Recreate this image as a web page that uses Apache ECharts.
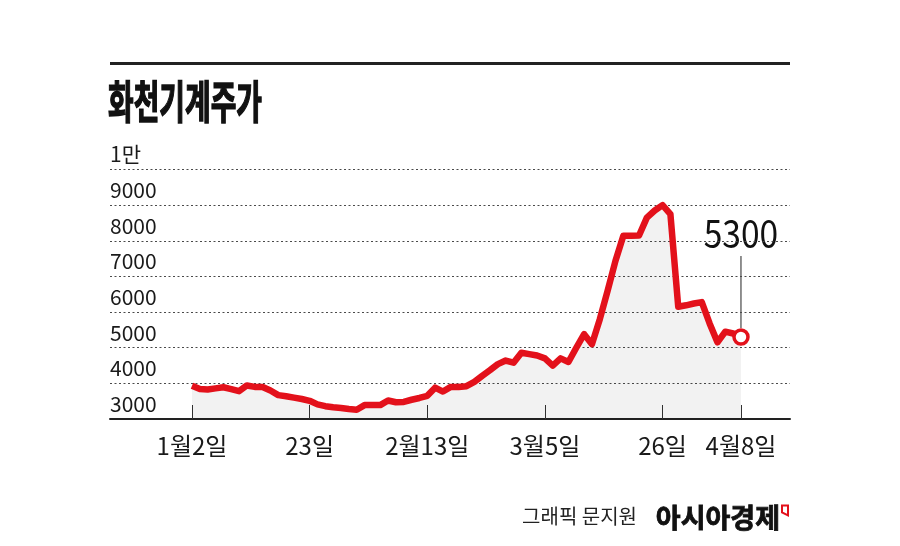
<!DOCTYPE html>
<html>
<head>
<meta charset="utf-8">
<script src="https://cdn.jsdelivr.net/npm/echarts@6/dist/echarts.min.js"></script>
<style>
html, body { margin: 0; background: #fff; }
#chart { width: 900px; height: 546px; }
</style>
</head>
<body>
<div id="chart"></div>
<script>
// 화천기계 주가, trading-day index -> close
const tickIndex = [0, 15, 30, 45, 60, 70]
const tickLabels = ['1월2일', '23일', '2월13일', '3월5일', '26일', '4월8일']
const yLabels = ['3000', '4000', '5000', '6000', '7000', '8000', '9000', '1만']
const prices = [
    3930, 3840, 3830, 3860, 3890, 3840, 3780, 3940, 3900, 3900,
    3800, 3670, 3640, 3600, 3560, 3510, 3410, 3360, 3330, 3310,
    3280, 3260, 3390, 3390, 3390, 3520, 3470, 3480, 3540, 3590,
    3650, 3880, 3770, 3900, 3900, 3920, 4040, 4210, 4370, 4540,
    4640, 4580, 4860, 4820, 4780, 4700, 4500, 4700, 4600, 5000,
    5380, 5100, 5800, 6600, 7440, 8140, 8140, 8150, 8650, 8850,
    9000, 8750, 6150, 6190, 6240, 6280, 5680, 5150, 5450, 5400,
    5300
]

const RED = '#e3111b'
const FONT = "'Noto Sans CJK KR', sans-serif"
const last = prices.length - 1

let chart = echarts.init(document.getElementById('chart'))

chart.setOption({
    animation: false,
    grid: { left: 110, right: 110, top: 169.5, bottom: 127 },
    xAxis: {
        type: 'value',
        min: -10.455,
        max: 76.25,
        splitLine: { show: false },
        axisLine: { lineStyle: { color: '#222', width: 2 } },
        axisTick: {
            customValues: tickIndex,
            inside: true,
            length: 14,
            lineStyle: { color: '#333', width: 1 },
        },
        axisLabel: {
            customValues: tickIndex,
            formatter: (v) => tickLabels[tickIndex.indexOf(v)],
            margin: 15,
            fontSize: 24,
            color: '#1a1a1a',
            fontFamily: FONT,
        },
    },
    yAxis: {
        type: 'value',
        min: 3000,
        max: 10000,
        interval: 1000,
        axisLine: { show: false },
        axisTick: { show: false },
        splitLine: { lineStyle: { type: [2, 2.5], color: '#4a4a4a', width: 1 } },
        axisLabel: {
            inside: true,
            margin: 0,
            verticalAlign: 'bottom',
            lineHeight: 20,
            padding: [0, 0, 5, 0],
            fontSize: 21,
            color: '#1a1a1a',
            fontFamily: FONT,
            formatter: (v) => yLabels[(v - 3000) / 1000],
        },
    },
    series: [
        {
            type: 'line',
            symbol: 'none',
            data: prices.map((v, i) => i === last ? {
                value: [i, v],
                symbol: 'circle',
                symbolSize: 14,
                itemStyle: { color: '#fff', borderColor: RED, borderWidth: 3.5 },
            } : [i, v]),
            lineStyle: { color: RED, width: 6.5, join: 'round' },
            areaStyle: { color: 'rgba(0,0,0,0.075)', origin: 'start' },
            z: 3,
        },
    ],
    graphic: [
        {
            id: 'rule', type: 'rect',
            shape: { x: 110, y: 62, width: 680, height: 3 },
            style: { fill: '#222' },
        },
        {
            id: 'title', type: 'text', x: 108, y: 102, scaleX: 0.62,
            style: {
                text: '화천기계주가', font: 'bold 45px ' + FONT,
                fill: '#111', stroke: '#111', lineWidth: 1.5,
                textVerticalAlign: 'middle',
            },
        },
        {
            id: 'credit', type: 'text', x: 637, y: 516,
            style: {
                text: '그래픽 문지원', font: '20px ' + FONT,
                fill: '#222', textAlign: 'right', textVerticalAlign: 'middle',
            },
        },
        {
            id: 'paper', type: 'text', x: 780, y: 518,
            style: {
                text: '아시아경제', font: 'bold 27px ' + FONT,
                fill: '#111', stroke: '#111', lineWidth: 0.8,
                textAlign: 'right', textVerticalAlign: 'middle',
            },
        },
        {
            id: 'flag', type: 'polygon',
            shape: { points: [[782, 505.5], [788, 505.5], [788, 515.5], [782, 512.5]] },
            style: { fill: 'none', stroke: RED, lineWidth: 2 },
        },
    ],
})

// callout for the last close
const [px, py] = chart.convertToPixel({ seriesIndex: 0 }, [last, prices[last]])
chart.setOption({
    graphic: [
        {
            id: 'leader', type: 'line',
            shape: { x1: px, y1: py - 9, x2: px, y2: py - 81 },
            style: { stroke: '#222', lineWidth: 1 },
        },
        {
            id: 'lastLabel', type: 'text', x: px, y: py - 104, scaleX: 0.86,
            style: {
                text: String(prices[last]), font: '39px ' + FONT,
                fill: '#111', textAlign: 'center', textVerticalAlign: 'middle',
            },
        },
    ],
})
</script>
</body>
</html>
